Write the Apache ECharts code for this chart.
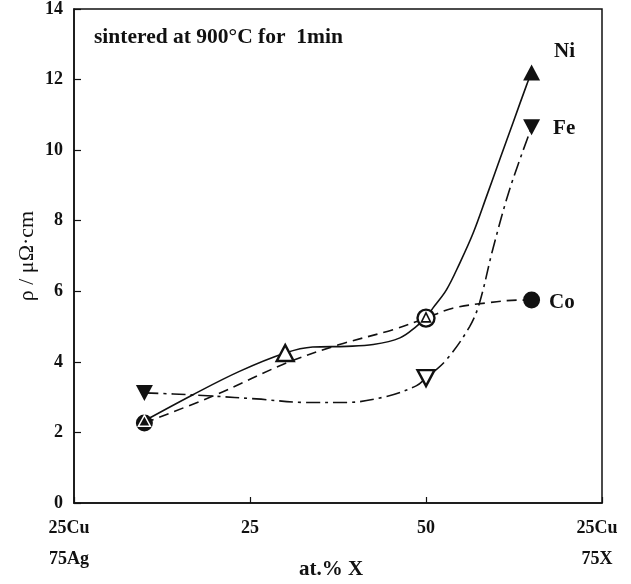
<!DOCTYPE html>
<html>
<head>
<meta charset="utf-8">
<script src="https://cdn.jsdelivr.net/npm/echarts@6/dist/echarts.min.js"></script>
<style>
  html, body { margin: 0; padding: 0; background: #fff; }
  #chart { width: 631px; height: 584px; }
</style>
</head>
<body>
<div id="chart"></div>
<script>
// Composition axis: at.% X, running from 25Cu-75Ag (0) to 25Cu-75X (75)
const xTicks = [0, 25, 50, 75];
const xTickTop = ['25Cu', '25', '50', '25Cu'];
const xTickBottom = ['75Ag', '', '', '75X'];
const yTicks = [0, 2, 4, 6, 8, 10, 12, 14];

const seriesNames = ['Ni', 'Fe', 'Co'];

// Measured resistivity, ρ in μΩ·cm
const niX = [10, 30, 50, 65];
const niRho = [2.33, 4.25, 5.26, 12.2];
const feX = [10, 50, 65];
const feRho = [3.12, 3.54, 10.65];
const coX = [10, 50, 65];
const coRho = [2.27, 5.24, 5.75];

// Guide curves drawn through the measurements
const niCurveX = [10, 16.9, 23.5, 30, 33.9, 38.7, 42.5, 46.3, 48.6, 50, 51, 52.9, 54.8, 56.7, 58.6, 60.5, 62.4, 64.3, 65];
const niCurveRho = [2.33, 3.07, 3.73, 4.25, 4.42, 4.44, 4.49, 4.68, 5.0, 5.26, 5.53, 6.04, 6.8, 7.65, 8.69, 9.75, 10.8, 11.85, 12.2];
const feCurveX = [10, 14.1, 19.7, 25.9, 33, 38.7, 44.4, 48.6, 50, 52.9, 56.2, 57.6, 59.5, 61.9, 65];
const feCurveRho = [3.12, 3.09, 3.03, 2.95, 2.85, 2.85, 3.02, 3.32, 3.54, 4.06, 5.0, 5.67, 7.2, 8.9, 10.65];
const coCurveX = [10, 20.2, 30.2, 37.7, 45.3, 50, 53.8, 58.6, 63.3, 65];
const coCurveRho = [2.27, 3.07, 3.97, 4.49, 4.91, 5.24, 5.52, 5.67, 5.75, 5.75];

const SERIF = '"Liberation Serif", "Times New Roman", serif';
const INK = '#111';

const zip = (xs, ys) => xs.map((x, i) => [x, ys[i]]);

// True when a Co circle sits at (x, y), so a Ni marker there is drawn nested inside it
const onCoCircle = (x, y) => coX.some((cx, i) => cx === x && Math.abs(coRho[i] - y) < 0.6);

// Marker styling: end compositions filled, intermediate ones open.
function markers(xs, ys, kind) {
  const n = xs.length;
  return xs.map((x, i) => {
    const filled = i === 0 || i === n - 1;
    const nested = kind === 'Ni' && onCoCircle(x, ys[i]);
    let size;
    if (kind === 'Co') size = 17;
    else if (nested) size = filled ? [12, 11] : [9, 9];
    else size = [17, 16];
    return {
      value: [x, ys[i]],
      symbolSize: size,
      itemStyle: {
        opacity: 1,
        color: filled ? INK : '#fff',
        borderColor: filled && nested ? '#fff' : INK,
        borderWidth: filled ? (nested ? 1.5 : 0) : (nested ? 1.6 : 2.4)
      }
    };
  });
}

function endLabel(data, text, distance, dy) {
  const last = data[data.length - 1];
  last.label = {
    show: true,
    formatter: text,
    position: 'right',
    distance: distance,
    offset: [0, dy],
    fontFamily: SERIF,
    fontWeight: 'bold',
    fontSize: 21,
    color: INK
  };
  return data;
}

const niMarks = endLabel(markers(niX, niRho, 'Ni'), seriesNames[0], 14, -21);
const feMarks = endLabel(markers(feX, feRho, 'Fe'), seriesNames[1], 13, 1);
const coMarks = endLabel(markers(coX, coRho, 'Co'), seriesNames[2], 9, 2);

const chart = echarts.init(document.getElementById('chart'), null, { renderer: 'canvas' });

const axisLabelFont = { fontFamily: SERIF, fontWeight: 'bold', fontSize: 18, color: INK };

chart.setOption({
  backgroundColor: '#fff',
  animation: false,
  grid: {
    left: 74, top: 9, right: 29, bottom: 81,
    show: true, borderColor: INK, borderWidth: 1.5
  },
  xAxis: {
    type: 'value',
    min: xTicks[0], max: xTicks[xTicks.length - 1], interval: 25,
    axisLine: { show: true, lineStyle: { color: INK, width: 1.5 } },
    axisTick: { show: true, inside: true, length: 6, lineStyle: { color: INK, width: 1.2 } },
    splitLine: { show: false },
    axisLabel: {
      ...axisLabelFont,
      margin: 10,
      lineHeight: 31,
      formatter: v => {
        const i = xTicks.indexOf(v);
        if (i < 0) return '';
        return xTickBottom[i] ? '{e|' + xTickTop[i] + '}\n{e|' + xTickBottom[i] + '}' : xTickTop[i];
      },
      rich: {
        e: { ...axisLabelFont, lineHeight: 31, padding: [0, 10, 0, 0] }
      }
    }
  },
  yAxis: {
    type: 'value',
    min: yTicks[0], max: yTicks[yTicks.length - 1], interval: 2,
    axisLine: { show: true, lineStyle: { color: INK, width: 1.5 } },
    axisTick: { show: true, inside: true, length: 7, lineStyle: { color: INK, width: 1.2 } },
    splitLine: { show: false },
    axisLabel: { ...axisLabelFont, margin: 11 }
  },
  graphic: [
    {
      type: 'text', x: 94, y: 37,
      style: {
        text: 'sintered at 900°C for  1min',
        font: 'bold 21.5px ' + SERIF,
        fill: INK, align: 'left', verticalAlign: 'middle'
      }
    },
    {
      type: 'text', x: 331, y: 570,
      style: {
        text: 'at.% X',
        font: 'bold 21px ' + SERIF,
        fill: INK, align: 'center', verticalAlign: 'middle'
      }
    },
    {
      type: 'text', x: 27, y: 256, rotation: Math.PI / 2,
      style: {
        text: 'ρ / μΩ·cm',
        font: '22px ' + SERIF,
        fill: INK, align: 'center', verticalAlign: 'middle'
      }
    }
  ],
  series: [
    {
      name: 'Ni curve', type: 'line', smooth: 0.35, showSymbol: false, z: 2,
      data: zip(niCurveX, niCurveRho),
      lineStyle: { color: INK, width: 1.6, type: 'solid' }
    },
    {
      name: 'Fe curve', type: 'line', smooth: 0.35, showSymbol: false, z: 2,
      data: zip(feCurveX, feCurveRho),
      lineStyle: { color: INK, width: 1.6, type: [14, 5, 3, 5] }
    },
    {
      name: 'Co curve', type: 'line', smooth: 0.35, showSymbol: false, z: 2,
      data: zip(coCurveX, coCurveRho),
      lineStyle: { color: INK, width: 1.6, type: [10, 6] }
    },
    {
      name: 'Co', type: 'scatter', symbol: 'circle', z: 3,
      data: coMarks
    },
    {
      name: 'Fe', type: 'scatter', symbol: 'triangle', symbolRotate: 180, z: 4,
      data: feMarks
    },
    {
      name: 'Ni', type: 'scatter', symbol: 'triangle', z: 5,
      data: niMarks
    }
  ]
});
</script>
</body>
</html>
